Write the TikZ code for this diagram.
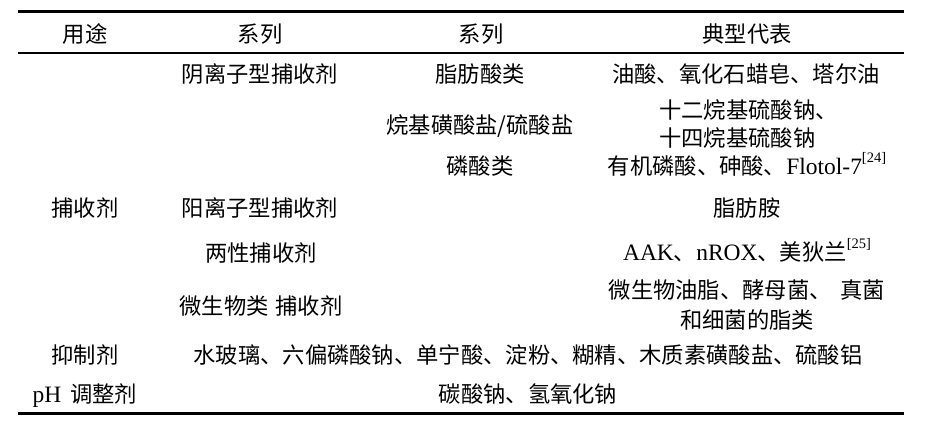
\documentclass[tikz,border=0pt]{standalone}
\usepackage{fontspec}
\setmainfont{Noto Sans CJK SC}
\newfontfamily\lat{Liberation Serif}
\newcommand{\latx}[1]{{\lat\fontsize{23.5}{26}\selectfont #1}}
\newcommand{\refmark}[1]{\raisebox{0.5em}{\fontsize{14.5}{15}\selectfont\lat [#1]}}
\begin{document}
\begin{tikzpicture}[x=1pt,y=-1pt,
  cell/.style={inner sep=0pt, anchor=base, font=\fontsize{22.3}{26}\selectfont},
  cellw/.style={cell, anchor=base west},
  thickrule/.style={line width=3pt},
  thinrule/.style={line width=2pt}]
\useasboundingbox (0,0) rectangle (945,423);
% rules
\coordinate (tl) at (18,11.5); \coordinate (tr) at (904,11.5);
\coordinate (ml) at (18,53); \coordinate (mr) at (904,53);
\coordinate (bl) at (18,413); \coordinate (br) at (904,413);
\draw[thickrule] (tl) -- (tr);
\draw[thinrule] (ml) -- (mr);
\draw[thickrule] (bl) -- (br);
% header
\node[cell] (h1) at (85,42) {用途};
\node[cell] (h2) at (260,42) {系列};
\node[cell] (h3) at (481,42) {系列};
\node[cell] (h4) at (747,42) {典型代表};
% rows
\node[cell] (a2) at (260,82) {阴离子型捕收剂};
\node[cell] (a3) at (480,82) {脂肪酸类};
\node[cell] (a4) at (746,82) {油酸、氧化石蜡皂、塔尔油};
\node[cell] (b3) at (480,133) {烷基磺酸盐/硫酸盐};
\node[cellw] (b4a) at (659,118) {十二烷基硫酸钠、};
\node[cellw] (b4b) at (659,146) {十四烷基硫酸钠};
\node[cell] (c3) at (480,174) {磷酸类};
\node[cell] (c4) at (747,174) {有机磷酸、砷酸、\latx{Flotol-7}\refmark{24}};
\node[cell] (d1) at (85,216) {捕收剂};
\node[cell] (d2) at (260,216) {阳离子型捕收剂};
\node[cell] (d4) at (747,216) {脂肪胺};
\node[cell] (e2) at (261,261) {两性捕收剂};
\node[cell] (e4) at (747,260) {\latx{AAK}、\latx{nROX}、美狄兰\refmark{25}};
\node[cell] (f2) at (261,314) {微生物类\hspace{0.3em}捕收剂};
\node[cell] (f4a) at (747,298) {微生物油脂、酵母菌、\hspace{0.4em}真菌};
\node[cell] (f4b) at (747,328) {和细菌的脂类};
\node[cell] (g1) at (85,363) {抑制剂};
\node[cell] (g2) at (528,363) {水玻璃、六偏磷酸钠、单宁酸、淀粉、糊精、木质素磺酸盐、硫酸铝};
\node[cell] (p1) at (85,402) {\latx{pH}\hspace{0.4em}调整剂};
\node[cell] (p2) at (528,402) {碳酸钠、氢氧化钠};
\end{tikzpicture}
\end{document}
